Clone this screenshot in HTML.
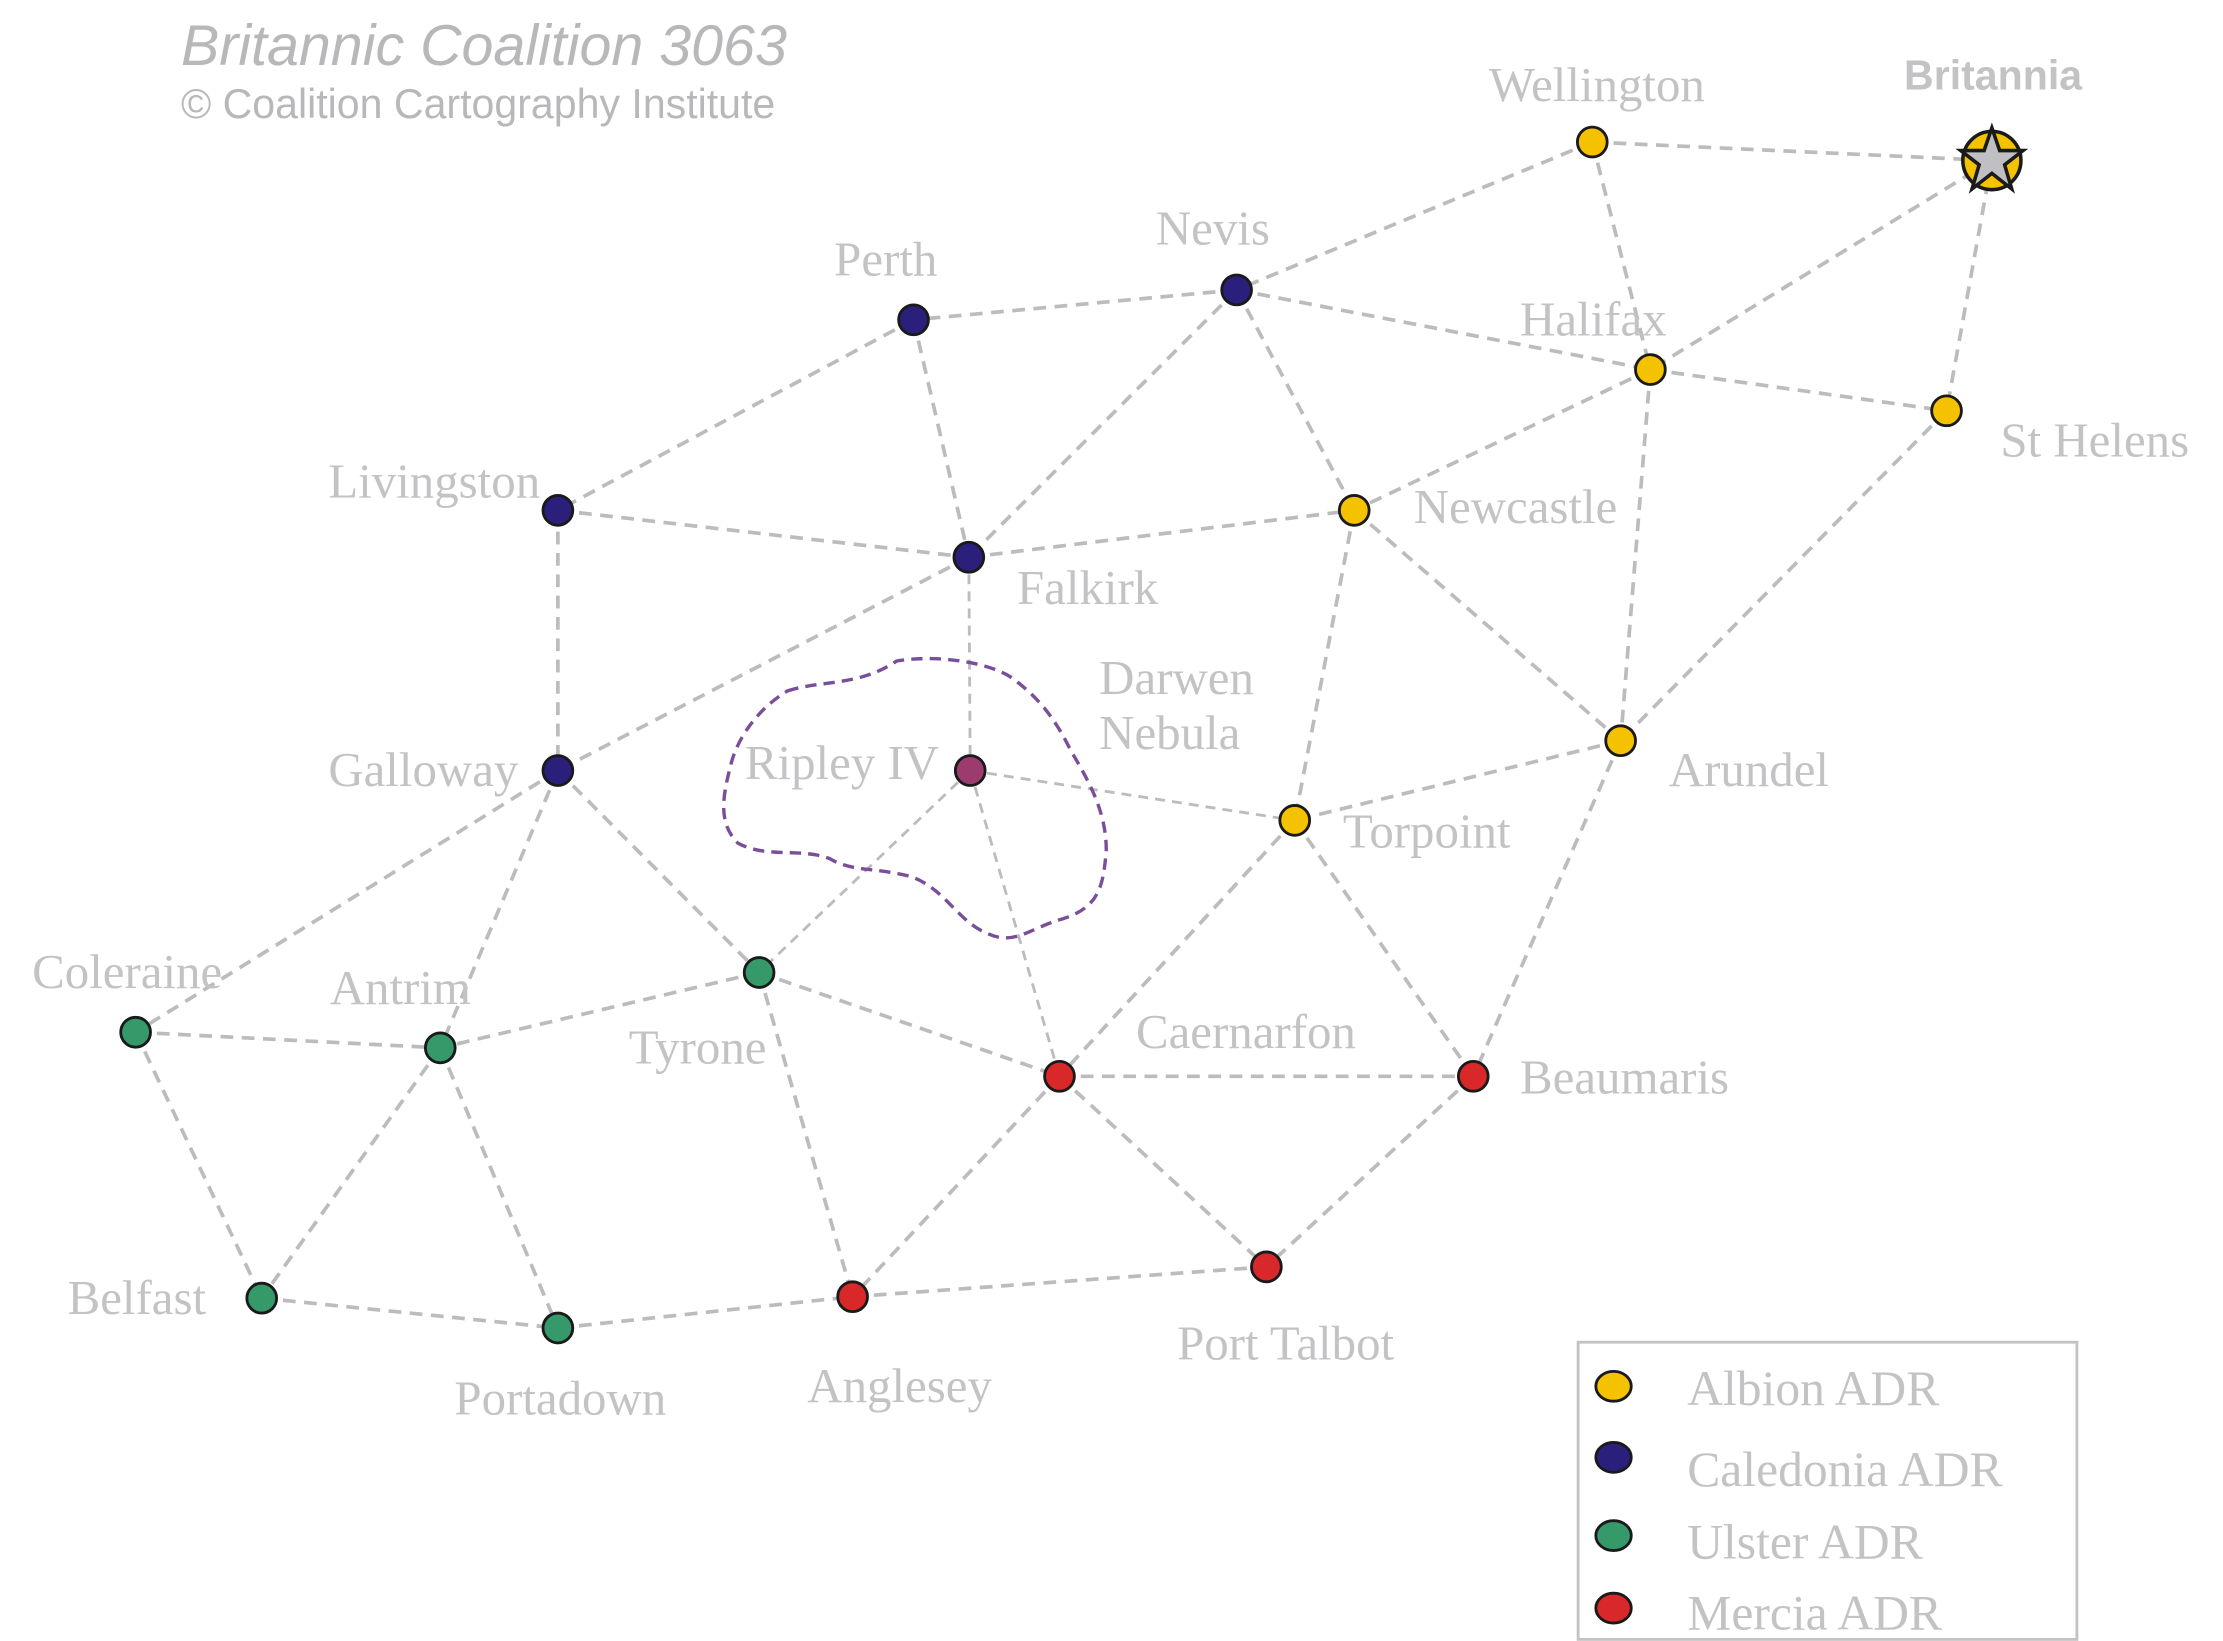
<!DOCTYPE html>
<html><head><meta charset="utf-8"><style>html,body{margin:0;padding:0;background:#fff}svg{display:block}</style></head>
<body>
<svg width="2223" height="1641" xmlns="http://www.w3.org/2000/svg">
<g transform="translate(1,-3) scale(1.417,1.422)">
<g stroke="#bcbcbc" stroke-width="2.6" stroke-dasharray="9,6" fill="none">
<line x1="1123" y1="102" x2="1405" y2="115"/>
<line x1="1123" y1="102" x2="872" y2="206"/>
<line x1="1123" y1="102" x2="1164" y2="262"/>
<line x1="1405" y1="115" x2="1164" y2="262"/>
<line x1="1405" y1="115" x2="1373" y2="291"/>
<line x1="872" y1="206" x2="644" y2="227"/>
<line x1="872" y1="206" x2="1164" y2="262"/>
<line x1="872" y1="206" x2="683" y2="394"/>
<line x1="872" y1="206" x2="955" y2="361"/>
<line x1="644" y1="227" x2="393" y2="361"/>
<line x1="644" y1="227" x2="683" y2="394"/>
<line x1="1164" y1="262" x2="1373" y2="291"/>
<line x1="1164" y1="262" x2="955" y2="361"/>
<line x1="1164" y1="262" x2="1143" y2="523"/>
<line x1="1373" y1="291" x2="1143" y2="523"/>
<line x1="393" y1="361" x2="683" y2="394"/>
<line x1="393" y1="361" x2="393" y2="544"/>
<line x1="683" y1="394" x2="955" y2="361"/>
<line x1="683" y1="394" x2="393" y2="544"/>
<line x1="955" y1="361" x2="1143" y2="523"/>
<line x1="955" y1="361" x2="913" y2="579"/>
<line x1="1143" y1="523" x2="913" y2="579"/>
<line x1="1143" y1="523" x2="1039" y2="759"/>
<line x1="393" y1="544" x2="95" y2="728"/>
<line x1="393" y1="544" x2="310" y2="739"/>
<line x1="393" y1="544" x2="535" y2="686"/>
<line x1="913" y1="579" x2="747" y2="759"/>
<line x1="913" y1="579" x2="1039" y2="759"/>
<line x1="535" y1="686" x2="310" y2="739"/>
<line x1="535" y1="686" x2="747" y2="759"/>
<line x1="535" y1="686" x2="601" y2="914"/>
<line x1="95" y1="728" x2="310" y2="739"/>
<line x1="95" y1="728" x2="184" y2="915"/>
<line x1="310" y1="739" x2="184" y2="915"/>
<line x1="310" y1="739" x2="393" y2="936"/>
<line x1="747" y1="759" x2="1039" y2="759"/>
<line x1="747" y1="759" x2="601" y2="914"/>
<line x1="747" y1="759" x2="893" y2="893"/>
<line x1="1039" y1="759" x2="893" y2="893"/>
<line x1="184" y1="915" x2="393" y2="936"/>
<line x1="393" y1="936" x2="601" y2="914"/>
<line x1="601" y1="914" x2="893" y2="893"/>
</g>
<g stroke="#bcbcbc" stroke-width="2" stroke-dasharray="7,5" fill="none">
<line x1="683" y1="394" x2="684" y2="544"/>
<line x1="684" y1="544" x2="913" y2="579"/>
<line x1="684" y1="544" x2="535" y2="686"/>
<line x1="684" y1="544" x2="747" y2="759"/>
</g>
<path d="M555,488 C580,480 605,485 632,467 C660,462 700,468 715,480 C735,495 745,510 755,530 C770,555 780,575 780,600 C778,625 775,640 750,648 C725,655 715,668 695,658 C675,650 665,625 640,618 C615,612 600,615 585,606 C565,598 540,606 520,595 C505,580 510,560 515,540 C520,520 535,500 555,488 Z" fill="none" stroke="#7a4f9a" stroke-width="2.4" stroke-dasharray="8,5"/>
<g stroke="#1a1a1a" stroke-width="2">
<circle cx="1123" cy="102" r="10.5" fill="#f5c200"/>
<circle cx="872" cy="206" r="10.5" fill="#2a1f7a"/>
<circle cx="644" cy="227" r="10.5" fill="#2a1f7a"/>
<circle cx="1164" cy="262" r="10.5" fill="#f5c200"/>
<circle cx="1373" cy="291" r="10.5" fill="#f5c200"/>
<circle cx="393" cy="361" r="10.5" fill="#2a1f7a"/>
<circle cx="955" cy="361" r="10.5" fill="#f5c200"/>
<circle cx="683" cy="394" r="10.5" fill="#2a1f7a"/>
<circle cx="1143" cy="523" r="10.5" fill="#f5c200"/>
<circle cx="393" cy="544" r="10.5" fill="#2a1f7a"/>
<circle cx="684" cy="544" r="10.5" fill="#9b3b6e"/>
<circle cx="913" cy="579" r="10.5" fill="#f5c200"/>
<circle cx="535" cy="686" r="10.5" fill="#35996a"/>
<circle cx="95" cy="728" r="10.5" fill="#35996a"/>
<circle cx="310" cy="739" r="10.5" fill="#35996a"/>
<circle cx="747" cy="759" r="10.5" fill="#d9282a"/>
<circle cx="1039" cy="759" r="10.5" fill="#d9282a"/>
<circle cx="893" cy="893" r="10.5" fill="#d9282a"/>
<circle cx="184" cy="915" r="10.5" fill="#35996a"/>
<circle cx="393" cy="936" r="10.5" fill="#35996a"/>
<circle cx="601" cy="914" r="10.5" fill="#d9282a"/>
<circle cx="1405" cy="115" r="20.5" fill="#f5c200" stroke-width="2.5"/>
<polygon points="1405,92 1410.5,108 1427,108 1414,118 1419,135 1405,124 1391,135 1396,118 1383,108 1399.5,108" fill="#c0c0c4" stroke-width="2.5"/>
</g>
<g font-family="Liberation Serif, serif" font-size="34.5" fill="#c3c3c5">
<text x="1050" y="73">Wellington</text>
<text x="815" y="174">Nevis</text>
<text x="588" y="196">Perth</text>
<text x="1072" y="238">Halifax</text>
<text x="1411" y="323">St Helens</text>
<text x="231" y="352">Livingston</text>
<text x="997" y="370">Newcastle</text>
<text x="717" y="427">Falkirk</text>
<text x="775" y="490">Darwen</text>
<text x="775" y="529">Nebula</text>
<text x="231" y="555">Galloway</text>
<text x="525" y="550">Ripley IV</text>
<text x="947" y="598">Torpoint</text>
<text x="1177" y="555">Arundel</text>
<text x="22" y="697">Coleraine</text>
<text x="232" y="708">Antrim</text>
<text x="443" y="750">Tyrone</text>
<text x="801" y="739">Caernarfon</text>
<text x="1072" y="771">Beaumaris</text>
<text x="830" y="958">Port Talbot</text>
<text x="47" y="926">Belfast</text>
<text x="320" y="997">Portadown</text>
<text x="569" y="988">Anglesey</text>
<text x="1190" y="990" font-size="35">Albion ADR</text>
<text x="1190" y="1047" font-size="35">Caledonia ADR</text>
<text x="1190" y="1098" font-size="35">Ulster ADR</text>
<text x="1190" y="1148" font-size="35">Mercia ADR</text>
</g>
<text x="1343" y="65" font-family="Liberation Sans, sans-serif" font-weight="bold" font-size="29" fill="#c3c3c5">Britannia</text>
<text x="127" y="48" font-family="Liberation Sans, sans-serif" font-style="italic" font-size="40.5" fill="#b8b8bb">Britannic Coalition 3063</text>
<text x="127" y="85" font-family="Liberation Sans, sans-serif" font-size="29" fill="#b8b8bb">© Coalition Cartography Institute</text>
<rect x="1113" y="946" width="352" height="209" fill="none" stroke="#c3c3c5" stroke-width="2"/>
<g stroke="#1a1a1a" stroke-width="2">
<ellipse cx="1138" cy="977" rx="12.5" ry="10.5" fill="#f5c200"/>
<ellipse cx="1138" cy="1027" rx="12.5" ry="10.5" fill="#2a1f7a"/>
<ellipse cx="1138" cy="1082" rx="12.5" ry="10.5" fill="#35996a"/>
<ellipse cx="1138" cy="1133" rx="12.5" ry="10.5" fill="#d9282a"/>
</g>
</g>
</svg>
</body></html>
